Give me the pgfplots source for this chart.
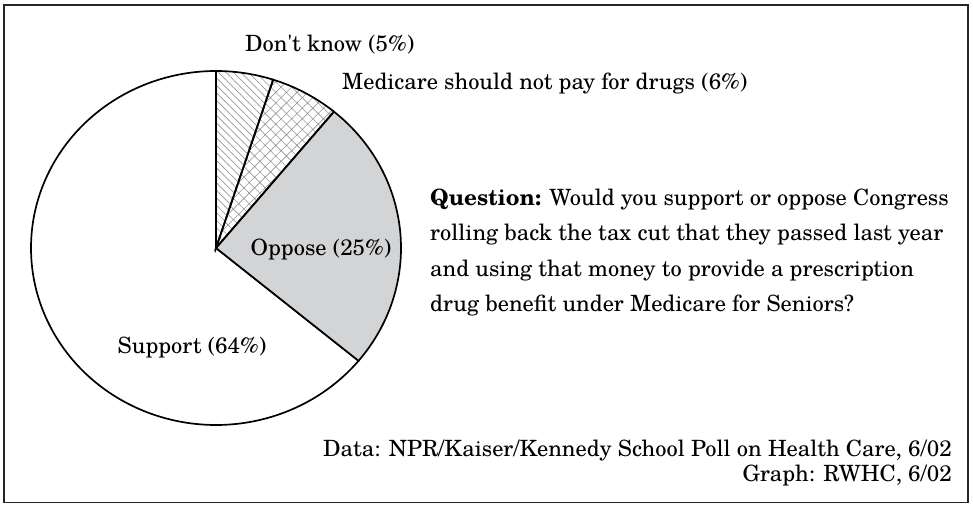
\documentclass[border=0pt]{standalone}
\usepackage{fontspec}
\setmainfont{TeX Gyre Schola}
\usepackage{pgfplots}
\pgfplotsset{compat=1.18}
\usepackage{pgfplotstable}
\usetikzlibrary{patterns.meta}

\pgfplotstableread{
label value
DontKnow 5
NotPay 6
Oppose 25
Support 64
}\piedata

\definecolor{oppgray}{RGB}{211,212,214}
\definecolor{hatchgray}{RGB}{150,150,150}
\newcommand\lab{\fontsize{22.4pt}{27pt}\selectfont}

\begin{document}
\begin{tikzpicture}
\pgfplotstablegetelem{0}{value}\of\piedata \let\vA\pgfplotsretval
\pgfplotstablegetelem{1}{value}\of\piedata \let\vB\pgfplotsretval
\pgfplotstablegetelem{2}{value}\of\piedata \let\vC\pgfplotsretval
\pgfplotstablegetelem{3}{value}\of\piedata \let\vD\pgfplotsretval
\pgfmathsetmacro{\aA}{90}
\pgfmathsetmacro{\aB}{\aA-3.6*\vA}
\pgfmathsetmacro{\aC}{\aB-3.6*\vB}
\pgfmathsetmacro{\aD}{\aC-3.6*\vC}
\pgfmathsetmacro{\aE}{\aD-3.6*\vD}
\begin{axis}[x=1pt, y=1pt, xmin=0, xmax=973, ymin=0, ymax=506,
  hide axis, clip=false]
% Support
\addplot[draw=black, line width=1.7pt, line join=miter, fill=white, domain=\aE:\aD, samples=240, variable=\t]
  ({216+185*cos(t)}, {258+177*sin(t)}) -- (axis cs:216,258) -- cycle;
% Oppose
\addplot[draw=black, line width=1.7pt, line join=miter, fill=oppgray, domain=\aD:\aC, samples=80, variable=\t]
  ({216+185*cos(t)}, {258+177*sin(t)}) -- (axis cs:216,258) -- cycle;
% Medicare should not pay
\addplot[draw=black, line width=1.7pt, line join=miter, pattern={Hatch[angle=45, distance=7.5pt, line width=0.6pt]}, pattern color=hatchgray, domain=\aC:\aB, samples=30, variable=\t]
  ({216+185*cos(t)}, {258+177*sin(t)}) -- (axis cs:216,258) -- cycle;
% Don't know
\addplot[draw=black, line width=1.7pt, line join=miter, pattern={Lines[angle=-45, distance=5.3pt, line width=0.6pt]}, pattern color=hatchgray, domain=\aB:\aA, samples=30, variable=\t]
  ({216+185*cos(t)}, {258+177*sin(t)}) -- (axis cs:216,258) -- cycle;

\draw[line width=1.8pt, black!85] (axis cs:4,3.5) rectangle (axis cs:968,501);

\node[font=\lab, inner sep=0pt, anchor=base west] at (axis cs:245,454) {Don\textquotesingle t know (5\%)};
\node[font=\lab, inner sep=0pt, anchor=base west] at (axis cs:342,416) {Medicare should not pay for drugs (6\%)};
\node[font=\lab, inner sep=0pt, anchor=base] at (axis cs:321,250) {Oppose (25\%)};
\node[font=\lab, inner sep=0pt, anchor=base] at (axis cs:192,153) {Support (64\%)};

\node[font=\lab, inner sep=0pt, anchor=base west] at (axis cs:430,300) {\textbf{Question:} Would you support or oppose Congress};
\node[font=\lab, inner sep=0pt, anchor=base west] at (axis cs:430,265) {rolling back the tax cut that they passed last year};
\node[font=\lab, inner sep=0pt, anchor=base west] at (axis cs:430,229) {and using that money to provide a prescription};
\node[font=\lab, inner sep=0pt, anchor=base west] at (axis cs:430,194) {drug benefit under Medicare for Seniors?};

\node[font=\lab, inner sep=0pt, anchor=base east] at (axis cs:952,50) {Data: NPR/Kaiser/Kennedy School Poll on Health Care, 6/02};
\node[font=\lab, inner sep=0pt, anchor=base east] at (axis cs:952,25) {Graph: RWHC, 6/02};
\end{axis}
\pgfresetboundingbox
\path (0,0) rectangle (973pt,506pt);
\end{tikzpicture}
\end{document}
